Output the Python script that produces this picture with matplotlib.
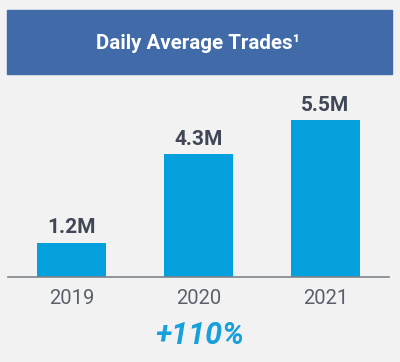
import matplotlib
matplotlib.use("Agg")
import matplotlib.pyplot as plt
from matplotlib.patches import Rectangle

years = ["2019", "2020", "2021"]
trades = [1.2, 4.3, 5.5]
value_labels = ["1.2M", "4.3M", "5.5M"]
title = "Daily Average Trades\u00b9"
growth = "+110%"

bg = "#F2F2F2"
banner_color = "#406AA8"
bar_color = "#049FDD"
label_color = "#404755"
year_color = "#5A606B"

plt.rcParams['font.family'] = ['Roboto', 'DejaVu Sans']

W, H = 400, 362
fig = plt.figure(figsize=(W / 100, H / 100), dpi=100, facecolor=bg)

# title banner (pixel coords from top-left)
fig.patches.append(Rectangle((7 / W, 1 - 74 / H), 385 / W, 64 / H,
                             transform=fig.transFigure, color=banner_color, zorder=0))
fig.text(198 / W, 1 - 43 / H, title, color="white", fontsize=14.8,
         fontweight="bold", ha="center", va="center")

ax = fig.add_axes([8 / W, 85 / H, 381 / W, 197 / H])
ax.set_facecolor(bg)
x = range(len(years))
bars = ax.bar(x, trades, width=0.55, color=bar_color, zorder=2)
ax.set_xlim(-0.5, 2.5)
ax.set_ylim(0, 197 / 28.5)

for b, lab in zip(bars, value_labels):
    ax.text(b.get_x() + b.get_width() / 2, b.get_height() + 0.2, lab,
            ha="center", va="bottom", fontsize=15, fontweight="bold",
            color=label_color)

for s in ["top", "right", "left"]:
    ax.spines[s].set_visible(False)
ax.spines["bottom"].set_color("#7F8389")
ax.spines["bottom"].set_linewidth(1.2)
ax.set_yticks([])
ax.set_xticks(list(x))
ax.set_xticklabels(years, fontsize=14.5, color=year_color)
ax.tick_params(axis="x", length=0, pad=9)

fig.text(200 / W, 1 - 336 / H, growth, color="#16A0DC", fontsize=22,
         fontweight="bold", fontstyle="italic", ha="center", va="center")

plt.savefig("out.png", dpi=100, facecolor=bg)
